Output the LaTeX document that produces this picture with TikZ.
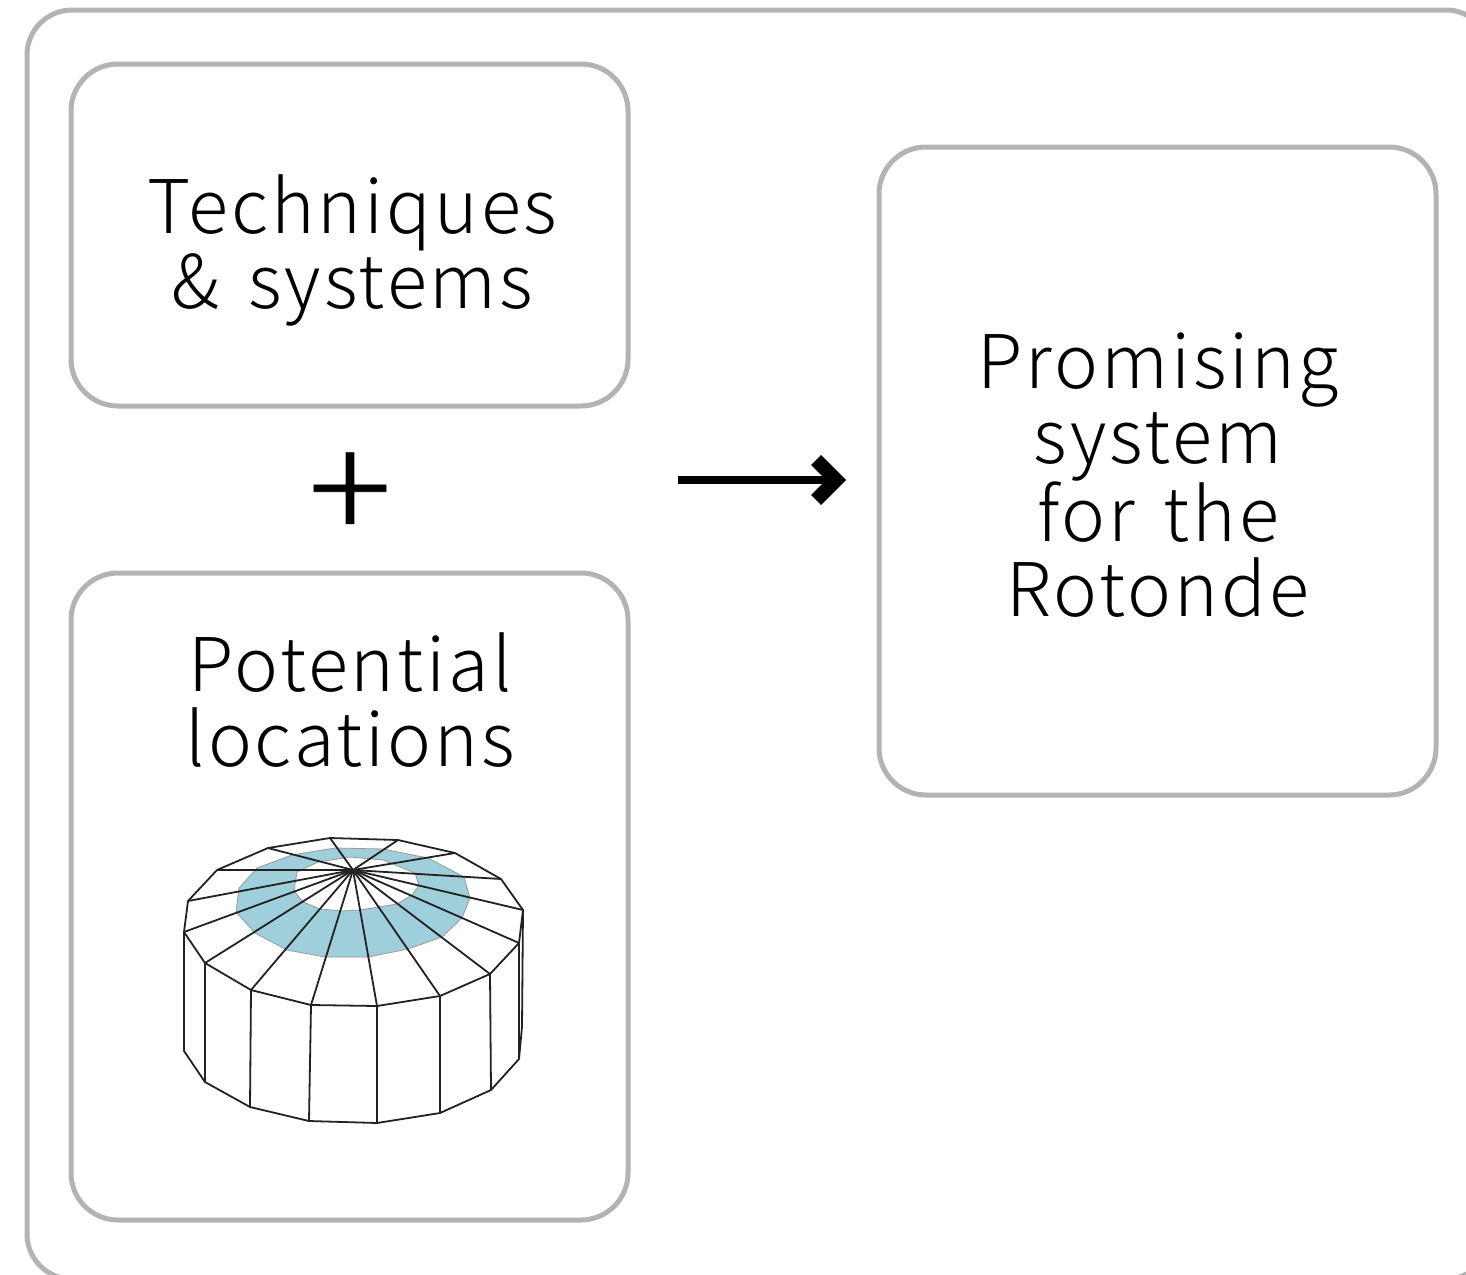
\documentclass[tikz,border=0pt]{standalone}
\usepackage{fontspec}
\usetikzlibrary{arrows.meta}
\newfontfamily\lbl[LetterSpace=4,WordSpace=1.5]{Noto Sans CJK JP Light}
\newfontfamily\plusfont[FakeBold=0.4]{Noto Sans CJK JP Light}
\definecolor{edge}{HTML}{B3B3B3}
\definecolor{ring}{HTML}{9ECFDB}
\definecolor{wire}{HTML}{222222}
\tikzset{
  panel/.style={draw=edge,line width=5pt,rounded corners=47pt,fill=white,outer sep=0pt},
  lab/.style={align=center,font=\fontsize{74}{75}\selectfont\lbl,text=black,inner sep=0pt},
  wireline/.style={draw=wire,line width=1.8pt,line join=round},
}
\begin{document}
\begin{tikzpicture}[x=1pt,y=-1pt]
\clip (0,0) rectangle (1466,1274);
\fill[white] (0,0) rectangle (1466,1274);
\draw[panel,rounded corners=45pt] (27,10) rectangle (1491,1279);
\node[panel,minimum width=557pt,minimum height=342pt,anchor=north west] (tech) at (71,64) {};
\node[panel,minimum width=557pt,minimum height=647pt,anchor=north west] (loc) at (71,573) {};
\node[panel,minimum width=557pt,minimum height=648pt,anchor=north west] (prom) at (879,147) {};
\node[lab] (techt) at (352.5,250.5) {Techniques\\\& systems};
\node[lab] (loct) at (350,700.5) {Potential\\locations};
\node[lab] (promt) at (1158,475) {Promising\\system\\for the\\Rotonde};
\node[inner sep=0pt,xscale=1.08,font=\fontsize{145}{145}\selectfont\plusfont] (plus) at (350,497) {+};
\coordinate (a1) at (678,480);
\coordinate (a2) at (846,480);
\draw[line width=8pt,-{Straight Barb[length=20pt,width=40pt,line width=14pt]}] (a1) -- (a2);
% ring
\fill[ring,draw=gray!80,line width=0.8pt,even odd rule]
 (335,848)--(292,855)--(257,868)--(239,888)--(236,912)--(255,933)--(287,950)--(325,957)--(368,957)--(408,949)--(442,937)--(462,918)--(470,898)--(464,877)--(428,858)--(383,849)--cycle
 (350,857)--(318,862)--(297,872)--(294,891)--(303,902)--(320,909)--(342,911)--(360,910)--(397,904)--(412,895)--(419,885)--(415,873)--(383,860)--cycle;
% top outline
\draw[wireline] (330,838)--(268,848)--(217,870)--(188,901)--(184,932)--(205,963)--(251,990)--(311,1005)--(377,1006)--(440,996)--(490,974)--(519,943)--(523,910)--(501,879)--(455,853)--(398,840)--cycle;
% rays
\coordinate (c) at (353,870);
\foreach \p in {(330,838),(268,848),(217,870),(188,901),(184,932),(205,963),(251,990),(311,1005),(377,1006),(440,996),(490,974),(519,943),(523,910),(501,879),(455,853),(398,840)}
  \draw[wireline] (c)--\p;
% sides
\draw[wireline] (184,932)--(184,1051)--(205,1082)--(250,1107)--(309,1121)--(377,1123)--(440,1113)--(491,1090)--(519,1059)--(522,1027)--(523,910);
\draw[wireline] (205,963)--(205,1082);
\draw[wireline] (251,990)--(250,1107);
\draw[wireline] (311,1005)--(309,1121);
\draw[wireline] (377,1006)--(377,1123);
\draw[wireline] (440,996)--(440,1113);
\draw[wireline] (490,974)--(491,1090);
\draw[wireline] (519,943)--(519,1059);
\end{tikzpicture}
\end{document}
